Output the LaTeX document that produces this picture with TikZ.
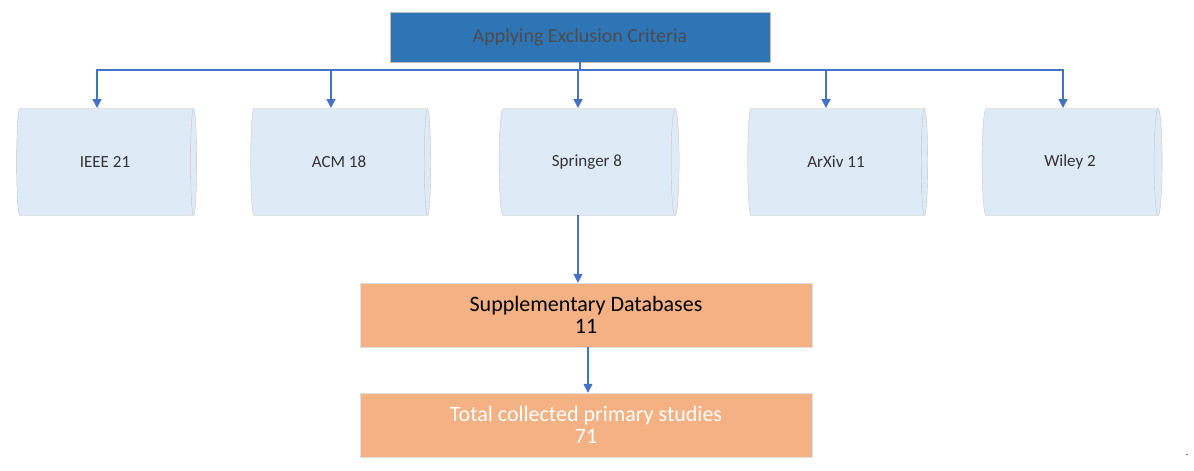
\documentclass[tikz,border=0pt]{standalone}
\usepackage{fontspec}
\setmainfont{Carlito}
\usetikzlibrary{arrows.meta, shapes.geometric, positioning}
\definecolor{topblue}{HTML}{2E75B6}
\definecolor{dbfill}{HTML}{DEEBF7}
\definecolor{arrowblue}{HTML}{4472C4}
\definecolor{boxorange}{HTML}{F4B183}
\tikzset{
  db/.style={shape=cylinder, aspect=0.55, draw=gray!45, fill=dbfill, minimum width=107pt, minimum height=180pt, shape border rotate=0, font=\fontsize{17}{20}\selectfont, text=black!80, inner sep=0pt},
  flow/.style={-{Triangle[width=9pt,length=9pt]}, arrowblue, line width=1.5pt},
  result/.style={draw=gray!25, fill=boxorange, minimum width=452pt, minimum height=64pt, align=center, font=\fontsize{22}{22}\selectfont, inner sep=0pt}
}
\begin{document}
\begin{tikzpicture}[x=1pt, y=1pt]
  \useasboundingbox (0,0) rectangle (1194,-471);
  % Top box
  \node[draw=gray!50, fill=topblue, minimum width=380pt, minimum height=50pt, text=black!70, font=\fontsize{20}{20}\selectfont] (excl) at (580,-37) {Applying Exclusion Criteria};

  % Databases
  \node[db] (ieee)     at (105,-162)  {IEEE 21};
  \node[db] (acm)      at (339,-162)  {ACM 18};
  \node[db] (springer) at (587,-162)  {Springer 8};
  \node[db] (arxiv)    at (836,-162)  {ArXiv 11};
  \node[db] (wiley)    at (1070,-162) {Wiley 2};

  % Results
  \node[result] (supp)  at (586,-315) {Supplementary Databases\\11};
  \node[result, text=white] (total) at (586,-425) {Total collected primary studies\\71};
  \node (dot) at (1187,-455) {.};

  % Edges
  \coordinate (bar) at (580,-70);
  \draw[arrowblue, line width=1.5pt] (excl.south) -- (bar);
  \foreach \n/\x in {ieee/97, acm/331, springer/578, arxiv/826, wiley/1063}
    \draw[flow] (bar) -| (\x,-108);
  \draw[flow] (578,-215) -- (supp.north -| 578,0);
  \draw[flow] (supp.south -| 588,0) -- (total.north -| 588,0);
\end{tikzpicture}
\end{document}
